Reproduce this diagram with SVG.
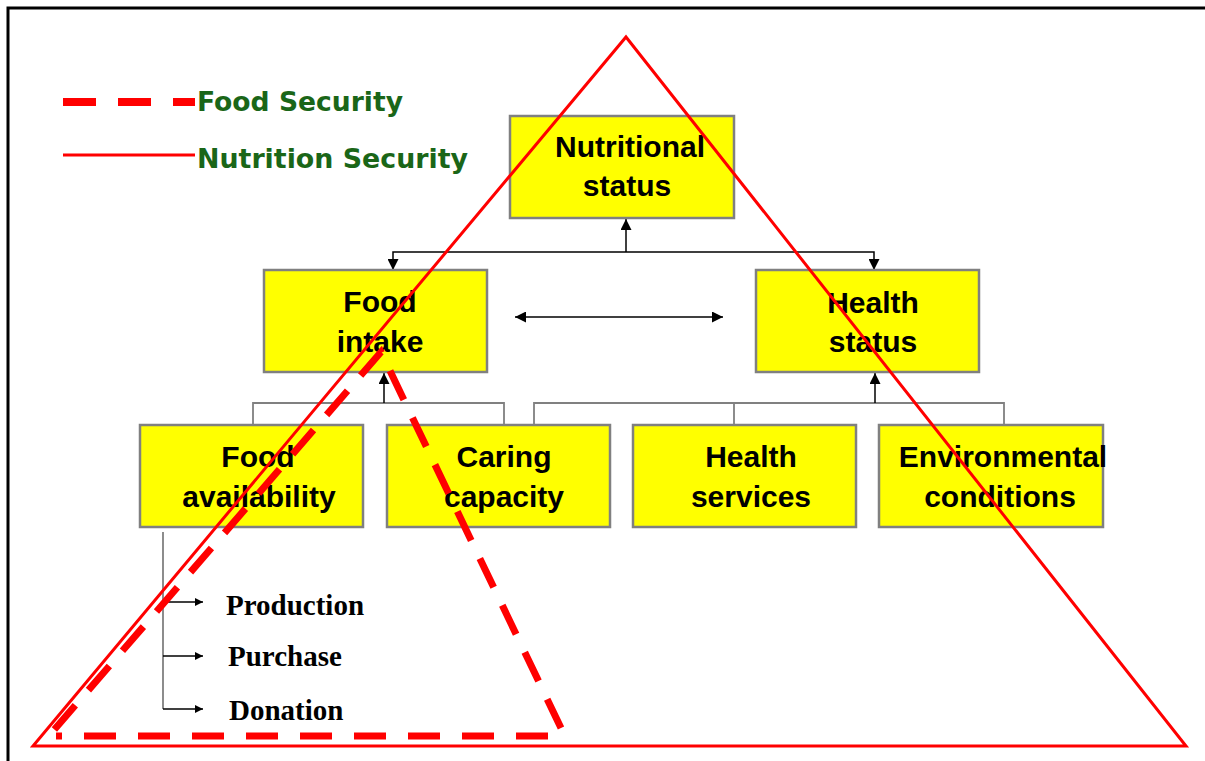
<svg xmlns="http://www.w3.org/2000/svg" width="1205" height="761" viewBox="0 0 1205 761">
<style>
.box{fill:#ffff00;stroke:#808080;stroke-width:2.5}
.lbl{font-family:"Liberation Sans",Arial,sans-serif;font-weight:bold;font-size:30px;fill:#000;text-anchor:middle}
.src{font-family:"Liberation Serif","Times New Roman",serif;font-weight:bold;font-size:29px;fill:#000}
.leg{font-family:"Comic Sans MS","DejaVu Sans",sans-serif;font-weight:bold;font-size:27px;fill:#1a6618}
.blk{stroke:#000;stroke-width:1.5;fill:none}
.gry{stroke:#808080;stroke-width:1.8;fill:none}
</style>
<defs>
<marker id="ah" viewBox="0 0 10 10" refX="10" refY="5" markerWidth="12" markerHeight="11" markerUnits="userSpaceOnUse" orient="auto-start-reverse">
<path d="M0,0 L10,5 L0,10 z" fill="#000"/>
</marker>
<marker id="ahs" viewBox="0 0 10 10" refX="10" refY="5" markerWidth="9" markerHeight="8" markerUnits="userSpaceOnUse" orient="auto">
<path d="M0,0 L10,5 L0,10 z" fill="#000"/>
</marker>
</defs>
<rect x="0" y="0" width="1205" height="761" fill="#fff"/>
<path d="M8,761 V8 H1205" fill="none" stroke="#000" stroke-width="3"/>

<g id="legend">
<line x1="63" y1="102" x2="195" y2="102" stroke="#ff0000" stroke-width="8" stroke-dasharray="33,22"/>
<line x1="63" y1="155" x2="195" y2="155" stroke="#ff0000" stroke-width="3"/>
<text class="leg" x="197" y="111" textLength="206" lengthAdjust="spacingAndGlyphs">Food Security</text>
<text class="leg" x="197" y="168" textLength="271" lengthAdjust="spacingAndGlyphs">Nutrition Security</text>
</g>

<g id="connectors">
<line class="blk" x1="626" y1="252" x2="626" y2="219" marker-end="url(#ah)"/>
<polyline class="blk" points="393,270 393,252 874,252 874,270" marker-start="url(#ah)" marker-end="url(#ah)"/>
<line class="blk" x1="515" y1="317" x2="723" y2="317" marker-start="url(#ah)" marker-end="url(#ah)"/>
<polyline class="gry" points="253,424 253,403 504,403 504,424"/>
<line class="blk" x1="384" y1="403" x2="384" y2="373" marker-end="url(#ah)"/>
<polyline class="gry" points="534,424 534,403 1004,403 1004,424"/>
<line class="gry" x1="734" y1="403" x2="734" y2="424"/>
<line class="blk" x1="875" y1="403" x2="875" y2="373" marker-end="url(#ah)"/>
<line class="gry" x1="163" y1="532" x2="163" y2="709"/>
<line class="blk" x1="163" y1="602" x2="203" y2="602" marker-end="url(#ahs)"/>
<line class="blk" x1="163" y1="656" x2="203" y2="656" marker-end="url(#ahs)"/>
<line class="blk" x1="163" y1="709" x2="203" y2="709" marker-end="url(#ahs)"/>
</g>

<g id="nutritional-status"><rect class="box" x="510" y="116" width="224" height="102"/><text class="lbl" x="630" y="157">Nutritional</text><text class="lbl" x="627" y="196">status</text></g>
<g id="food-intake"><rect class="box" x="264" y="270" width="223" height="102"/><text class="lbl" x="380" y="312">Food</text><text class="lbl" x="380" y="352">intake</text></g>
<g id="health-status"><rect class="box" x="756" y="270" width="223" height="102"/><text class="lbl" x="873" y="313">Health</text><text class="lbl" x="873" y="352">status</text></g>
<g id="food-availability"><rect class="box" x="140" y="425" width="223" height="102"/><text class="lbl" x="258" y="467">Food</text><text class="lbl" x="259" y="507">availability</text></g>
<g id="caring-capacity"><rect class="box" x="387" y="425" width="223" height="102"/><text class="lbl" x="504" y="467">Caring</text><text class="lbl" x="504" y="507">capacity</text></g>
<g id="health-services"><rect class="box" x="633" y="425" width="223" height="102"/><text class="lbl" x="751" y="467">Health</text><text class="lbl" x="751" y="507">services</text></g>
<g id="environmental-conditions"><rect class="box" x="879" y="425" width="224" height="102"/><text class="lbl" x="1003" y="467">Environmental</text><text class="lbl" x="1000" y="507">conditions</text></g>

<g id="sources">
<text class="src" x="226" y="615">Production</text>
<text class="src" x="228" y="666">Purchase</text>
<text class="src" x="229" y="720">Donation</text>
</g>

<g id="triangles">
<polygon points="626,37 1186,746 33,746" fill="none" stroke="#ff0000" stroke-width="3" stroke-linejoin="miter"/>
<polyline points="561,728 381,352 47,738" fill="none" stroke="#ff0000" stroke-width="7" stroke-dasharray="32,20"/>
<line x1="548" y1="736" x2="56" y2="736" stroke="#ff0000" stroke-width="7" stroke-dasharray="32,22"/>
</g>
</svg>
